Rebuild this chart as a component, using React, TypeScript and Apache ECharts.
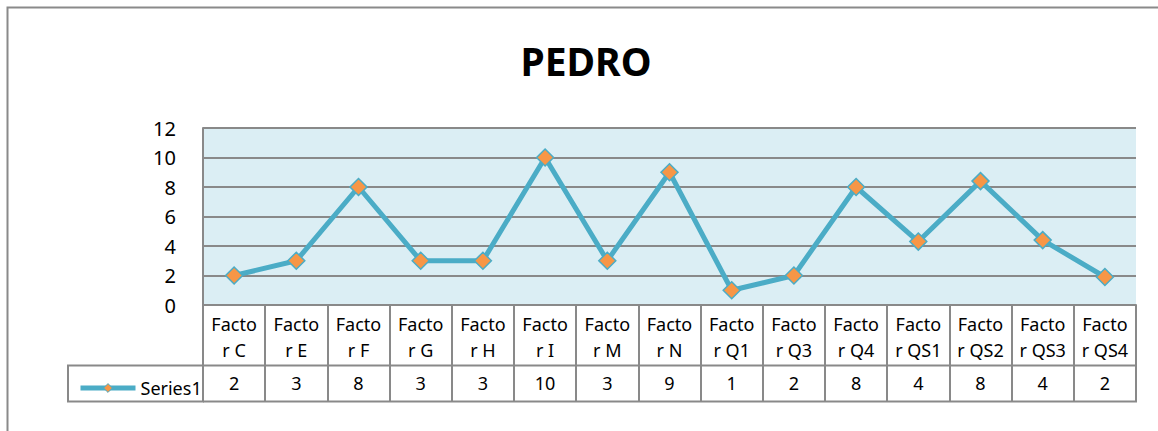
import React, { useEffect, useRef } from "react";
import * as echarts from "echarts";

const title = "PEDRO";
const seriesName = "Series1";
const categories = [
  "Factor C", "Factor E", "Factor F", "Factor G", "Factor H", "Factor I", "Factor M",
  "Factor N", "Factor Q1", "Factor Q3", "Factor Q4", "Factor QS1", "Factor QS2", "Factor QS3", "Factor QS4",
];
const values = [2, 3, 8, 3, 3, 10, 3, 9, 1, 2, 8, 4.3, 8.4, 4.4, 1.9];
const tableValues = values.map((v) => String(Math.round(v)));
const yTicks = { min: 0, max: 12, interval: 2 };

const W = 1158;
const H = 431;
const G = { left: 203, right: 1136, top: 128, bottom: 305 };
const FONT = "'Noto Sans', sans-serif";
const GRAY = "#898989";

export default function App() {
  const ref = useRef<HTMLDivElement>(null);
  useEffect(() => {
    document.body.style.margin = "0";
    const chart = echarts.init(ref.current!, null, { renderer: "svg" });
    const rowTop = 365.5;
    const rowBottom = 401.5;
    chart.setOption({
      animation: false,
      backgroundColor: "#ffffff",
      textStyle: { fontFamily: FONT },
      grid: {
        left: G.left,
        right: W - G.right,
        top: G.top,
        bottom: H - G.bottom,
        show: true,
        backgroundColor: "#DBEEF4",
        borderWidth: 0,
      },
      legend: {
        data: [seriesName],
        left: 73,
        top: 373,
        itemWidth: 55,
        itemHeight: 11,
        lineStyle: { width: 5, color: "#4BACC6" },
        itemStyle: { color: "#F79646", borderColor: "#4BACC6", borderWidth: 1 },
        textStyle: { fontSize: 18, lineHeight: 20, color: "#000", fontFamily: FONT },
      },
      xAxis: [
        {
          type: "category",
          data: categories,
          boundaryGap: true,
          position: "bottom",
          axisLine: { show: true, lineStyle: { color: GRAY, width: 2 } },
          axisTick: { show: true, length: 96, lineStyle: { color: GRAY, width: 2 } },
          axisLabel: {
            interval: 0,
            margin: 6,
            fontSize: 18,
            lineHeight: 26,
            color: "#000",
            fontFamily: FONT,
            formatter: (v: string) => v.slice(0, 5) + "\n" + v.slice(5),
          },
          splitLine: { show: false },
        },
        {
          type: "category",
          data: tableValues,
          boundaryGap: true,
          position: "bottom",
          offset: 60,
          axisLine: { show: false },
          axisTick: { show: false },
          axisLabel: {
            interval: 0,
            margin: 8,
            fontSize: 18,
            lineHeight: 20,
            color: "#000",
            fontFamily: FONT,
          },
        },
      ],
      yAxis: {
        type: "value",
        min: yTicks.min,
        max: yTicks.max,
        interval: yTicks.interval,
        axisLine: { show: true, lineStyle: { color: GRAY, width: 2 } },
        axisTick: { show: false },
        axisLabel: { fontSize: 20, color: "#000", margin: 27, fontFamily: FONT },
        splitLine: { show: true, lineStyle: { color: GRAY, width: 2 } },
      },
      series: [
        {
          name: seriesName,
          type: "line",
          xAxisIndex: 0,
          data: values,
          symbol: "diamond",
          symbolSize: 17,
          lineStyle: { color: "#4BACC6", width: 5 },
          itemStyle: { color: "#F79646", borderColor: "#4BACC6", borderWidth: 1.5 },
          z: 5,
        },
      ],
      graphic: [
        {
          type: "rect",
          shape: { x: 7.5, y: 7.5, width: 1300, height: 600 },
          style: { fill: "none", stroke: "#8a8a8a", lineWidth: 2 },
          silent: true,
        },
        {
          type: "text",
          x: 586,
          y: 60,
          style: {
            text: title,
            font: "bold 39px 'Noto Sans', sans-serif",
            fill: "#000",
            textAlign: "center",
            textVerticalAlign: "middle",
          },
        },
        {
          type: "line",
          shape: { x1: G.left, y1: rowTop, x2: G.right + 1, y2: rowTop },
          style: { stroke: GRAY, lineWidth: 2 },
        },
        {
          type: "line",
          shape: { x1: G.left, y1: rowBottom, x2: G.right + 1, y2: rowBottom },
          style: { stroke: GRAY, lineWidth: 2 },
        },
        {
          type: "rect",
          shape: { x: 68, y: rowTop, width: G.left - 68, height: rowBottom - rowTop },
          style: { fill: "none", stroke: GRAY, lineWidth: 2 },
          z: -1,
        },
      ],
    });
    return () => chart.dispose();
  }, []);
  return <div ref={ref} style={{ width: W, height: H }} />;
}
